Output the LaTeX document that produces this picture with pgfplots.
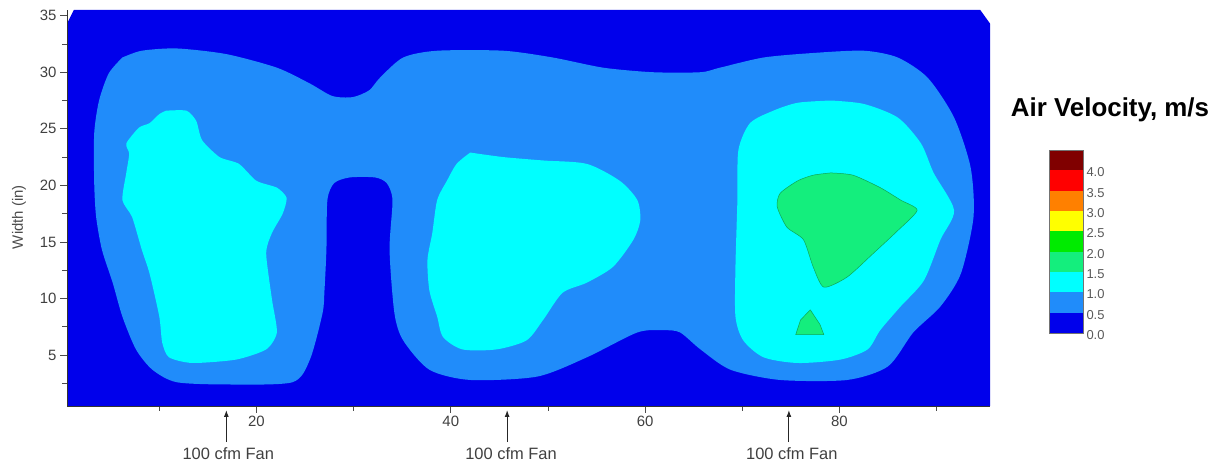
\documentclass[border=0pt]{standalone}
\usepackage{fontspec}
\setmainfont{Liberation Sans}
\usepackage{pgfplots}
\pgfplotsset{compat=1.18}
\usetikzlibrary{arrows.meta}

% contour level colours, 0.5 m/s per band
\definecolor{lvA}{RGB}{0,0,235}     % 0.0 - 0.5
\definecolor{lvB}{RGB}{32,140,250}  % 0.5 - 1.0
\definecolor{lvC}{RGB}{0,255,255}   % 1.0 - 1.5
\definecolor{lvD}{RGB}{20,238,125}  % 1.5 - 2.0
\definecolor{lvE}{RGB}{0,235,0}     % 2.0 - 2.5
\definecolor{lvF}{RGB}{255,255,0}   % 2.5 - 3.0
\definecolor{lvG}{RGB}{255,128,0}   % 3.0 - 3.5
\definecolor{lvH}{RGB}{255,0,0}     % 3.5 - 4.0
\definecolor{lvI}{RGB}{128,0,0}     % > 4.0

\begin{document}
\begin{tikzpicture}[x=1bp,y=1bp]
\useasboundingbox (0,0) rectangle (1220,468);

\begin{axis}[
  scale only axis, width=923bp, height=396bp,
  at={(67bp,62bp)}, anchor=south west,
  xmin=0.5, xmax=95.5, ymin=0.5, ymax=35.5,
  axis x line*=bottom, axis y line*=left,
  axis line style={black!80, line width=0.8pt},
  axis on top, clip=false,
  tick align=outside,
  major tick length=7bp, minor tick length=5bp,
  tick style={black!70, line width=0.6pt},
  xtick={20,40,60,80}, minor xtick={10,30,50,70,90},
  ytick={5,10,15,20,25,30,35}, minor ytick={2.5,7.5,12.5,17.5,22.5,27.5,32.5},
  ticklabel style={font=\fontsize{15}{18}\selectfont, text=black!75},
  /pgf/number format/assume math mode=true,
  every axis y label/.style={at={(axis description cs:-0.052,0.477)},
    rotate=90, anchor=center, font=\fontsize{15}{18}\selectfont, text=black!70},
  ylabel={Width (in)},
]

% 0.0 - 0.5 m/s: whole measured field
\addplot[fill=lvA, draw=none] coordinates {
  (0.5,0.5) (95.5,0.5) (95.5,34.3) (94.5,35.5) (1.2,35.5) (0.5,34.3)
} -- cycle;

% 0.5 - 1.0 m/s band
\addplot[fill=lvB, draw=none, smooth, tension=0.45] coordinates {
  (6.2,31.3) (8.2,31.9) (11.8,32.1) (16.9,31.6) (22.1,30.4) (25.5,29.0)
  (27.8,27.9) (29.9,27.8) (31.6,28.4) (32.7,29.5) (35.1,31.3) (38.6,31.9)
  (45.4,31.9) (50.5,31.3) (55.7,30.4) (60.8,30.0) (65.7,30.0) (67.7,30.4)
  (72.2,31.3) (77.3,31.7) (82.5,31.9) (86.0,31.3) (89.1,29.5) (91.8,26.0)
  (93.5,21.6) (93.8,17.2) (92.5,12.2) (90.4,9.3) (87.6,7.0) (85.0,4.0)
  (80.8,2.8) (73.9,2.8) (68.8,3.7) (65.7,5.5) (63.6,7.0) (61.9,7.2)
  (59.2,7.0) (54.0,4.8) (48.9,3.1) (42.0,2.8) (37.8,3.7) (35.1,6.3)
  (34.2,8.7) (33.7,14.3) (34.0,18.7) (33.4,20.2) (32.2,20.7) (29.6,20.7)
  (28.0,20.2) (27.3,18.7) (27.2,14.3) (27.0,10.7) (26.8,8.7) (25.5,4.6)
  (23.7,2.6) (17.2,2.4) (11.8,2.6) (9.3,3.7) (7.6,5.5) (6.2,8.4)
  (5.2,11.4) (4.1,14.3) (3.5,17.2) (3.3,20.2) (3.3,24.6) (3.8,27.5)
  (4.8,29.9) (6.2,31.3)
};

% 1.0 - 1.5 m/s: left fan
\addplot[fill=lvC, draw=none, smooth, tension=0.4] coordinates {
  (10.7,26.6) (12.8,26.6) (13.8,25.7) (14.4,24.0) (16.2,22.5) (18.2,21.9)
  (20.0,20.4) (22.1,19.8) (23.1,18.9) (22.7,17.5) (21.6,15.8) (21.0,14.0)
  (21.6,9.9) (22.1,7.0) (21.0,5.5) (17.9,4.6) (13.4,4.3) (11.0,4.8)
  (10.3,6.1) (10.0,8.4) (9.0,12.2) (8.2,14.3) (7.2,17.2) (6.2,18.7)
  (6.6,21.1) (6.9,22.8) (6.6,23.7) (7.9,25.1) (9.0,25.5) (10.0,26.3)
  (10.7,26.6)
};

% 1.0 - 1.5 m/s: middle fan
\addplot[fill=lvC, draw=none, smooth, tension=0.45] coordinates {
  (42.0,22.9) (45.4,22.5) (49.5,22.2) (54.0,21.9) (57.4,20.4) (59.2,18.7)
  (59.5,16.9) (58.8,15.2) (56.7,12.8) (54.0,11.4) (51.5,10.5) (49.5,8.1)
  (47.8,6.3) (44.7,5.5) (41.2,5.5) (39.2,6.6) (38.6,8.4) (37.8,10.7)
  (37.6,13.4) (38.1,15.8) (38.6,18.7) (39.6,20.4) (40.6,21.9) (42.0,22.9)
};

% 1.0 - 1.5 m/s: right fan
\addplot[fill=lvC, draw=none, smooth, tension=0.45] coordinates {
  (79.1,27.5) (82.5,27.2) (86.0,26.0) (88.4,23.7) (89.7,21.1) (91.8,17.8)
  (90.4,15.2) (88.7,11.6) (86.3,9.3) (84.2,7.2) (82.9,5.5) (80.1,4.6)
  (75.7,4.3) (72.2,4.8) (70.1,6.3) (69.3,8.4) (69.3,12.8) (69.5,18.7)
  (69.6,23.1) (70.8,25.5) (73.2,26.6) (75.7,27.3) (79.1,27.5)
};

% 1.5 - 2.0 m/s: right fan core
\addplot[fill=lvD, draw=lvD!70!black, line width=0.5pt, smooth, tension=0.4] coordinates {
  (79.1,21.1) (81.4,20.9) (84.2,19.8) (86.3,18.7) (88.0,17.8) (86.0,16.0)
  (83.5,14.0) (80.8,11.9) (78.4,11.0) (77.3,12.8) (76.3,15.2) (74.6,16.3)
  (73.6,18.1) (73.9,19.3) (75.7,20.4) (77.3,20.9) (79.1,21.1)
};

% 1.5 - 2.0 m/s: small spot below
\addplot[fill=lvD, draw=lvD!70!black, line width=0.5pt] coordinates {
  (77.0,9.0) (78.0,7.7) (78.4,6.8) (75.5,6.8) (76.0,8.1) (77.0,9.0)
};

% fan positions
\foreach \xa/\xt in {16.9/17.1, 45.8/46.2, 74.8/75.1} {
  \edef\temp{\noexpand\draw[-{Latex[length=7bp,width=5bp]}, line width=1.1pt, black!85]
    (axis cs:\xa,-2.7) -- (axis cs:\xa,0.15);
  \noexpand\node[anchor=base, font=\noexpand\fontsize{16.5}{19}\noexpand\selectfont, text=black!75]
    at (axis cs:\xt,-4.27) {100 cfm Fan};}
  \temp
}
\end{axis}

% colour scale
\begin{axis}[
  scale only axis, width=34bp, height=183bp,
  at={(1049bp,135bp)}, anchor=south west,
  xmin=0, xmax=1, ymin=0, ymax=4.5,
  xtick=\empty,
  ytick={0,0.5,1,1.5,2,2.5,3,3.5,4},
  yticklabel pos=right,
  major tick length=0pt,
  axis line style={black!55, line width=0.5pt},
  axis on top,
  yticklabel style={font=\fontsize{13}{15}\selectfont, text=black!65, yshift=-2bp,
    /pgf/number format/fixed, /pgf/number format/fixed zerofill,
    /pgf/number format/precision=1},
  /pgf/number format/assume math mode=true,
]
\addplot[fill=lvA, draw=none] coordinates {(0,0) (1,0) (1,0.5) (0,0.5)} -- cycle;
\addplot[fill=lvB, draw=none] coordinates {(0,0.5) (1,0.5) (1,1) (0,1)} -- cycle;
\addplot[fill=lvC, draw=none] coordinates {(0,1) (1,1) (1,1.5) (0,1.5)} -- cycle;
\addplot[fill=lvD, draw=none] coordinates {(0,1.5) (1,1.5) (1,2) (0,2)} -- cycle;
\addplot[fill=lvE, draw=none] coordinates {(0,2) (1,2) (1,2.5) (0,2.5)} -- cycle;
\addplot[fill=lvF, draw=none] coordinates {(0,2.5) (1,2.5) (1,3) (0,3)} -- cycle;
\addplot[fill=lvG, draw=none] coordinates {(0,3) (1,3) (1,3.5) (0,3.5)} -- cycle;
\addplot[fill=lvH, draw=none] coordinates {(0,3.5) (1,3.5) (1,4) (0,4)} -- cycle;
\addplot[fill=lvI, draw=none] coordinates {(0,4) (1,4) (1,4.5) (0,4.5)} -- cycle;
\end{axis}

\node[anchor=base, font=\bfseries\fontsize{26}{30}\selectfont] at (1110,351) {Air Velocity, m/s};
\end{tikzpicture}
\end{document}
